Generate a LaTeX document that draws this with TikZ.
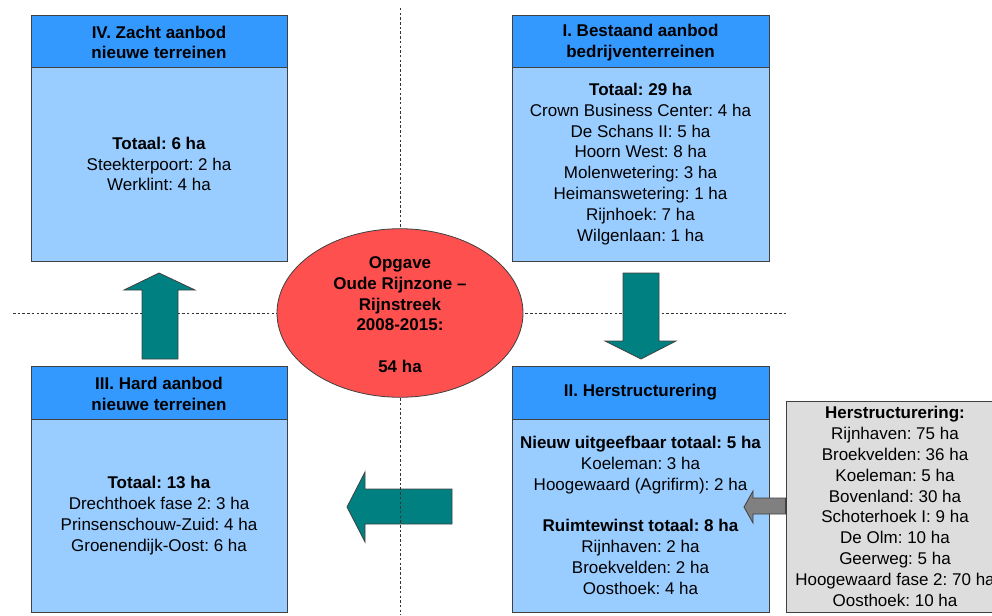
\documentclass[tikz,border=0pt]{standalone}
\usepackage{fontspec}
\setmainfont{Liberation Sans}
\usetikzlibrary{shapes.geometric}
\frenchspacing
\definecolor{headblue}{HTML}{3399FF}
\definecolor{bodyblue}{HTML}{99CCFF}
\definecolor{goalred}{HTML}{FF5050}
\definecolor{flowteal}{HTML}{008080}
\definecolor{sidegray}{HTML}{DDDDDD}
\definecolor{arrowgray}{HTML}{808080}
\begin{document}
\begin{tikzpicture}[x=1pt,y=-1pt,
  every node/.style={font=\fontsize{17}{20.8}\selectfont, inner sep=0pt, align=center},
  frame/.style={draw=black!75, line width=0.8pt},
  headbox/.style={frame, fill=headblue, minimum width=256pt, font=\fontsize{17}{20.8}\selectfont\bfseries},
  bodybox/.style={frame, fill=bodyblue, minimum width=256pt},
  sidebox/.style={frame, fill=sidegray},
  goal/.style={frame, ellipse, fill=goalred, minimum width=246pt, minimum height=158pt, font=\fontsize{17}{20.8}\selectfont\bfseries},
  blockarrow/.style={frame, fill=flowteal},
  grayarrow/.style={frame, fill=arrowgray},
  quadrant/.style={draw=black!80, line width=0.9pt, dash pattern=on 2.5pt off 2.2pt}
]
\useasboundingbox (0,0) rectangle (992,615);
\clip (0,0) rectangle (992,615);

% quadrant divider (horizontal) and flow arrows
\coordinate (hl) at (13,313);
\coordinate (hr) at (787,313);
\draw[quadrant] (hl) -- (hr);

\draw[blockarrow] (142,359) -- (142,290) -- (124,290) -- (159,273) -- (195,290) -- (178,290) -- (178,359) -- cycle;
\draw[blockarrow] (623,273) -- (659,273) -- (659,341) -- (676,341) -- (641,359) -- (605,341) -- (623,341) -- cycle;
\draw[blockarrow] (452,489) -- (365,489) -- (365,472) -- (347,507) -- (365,542) -- (365,524) -- (452,524) -- cycle;

% quadrant divider (vertical)
\coordinate (vt) at (400,8);
\coordinate (vb) at (400,615);
\draw[quadrant] (vt) -- (vb);

% central target
\node[goal] (goal) at (400,313) {\rule{0pt}{15pt}Opgave\\Oude Rijnzone --\\Rijnstreek\\2008-2015:\\[20.8pt]54 ha};

% IV. soft supply
\node[headbox, minimum height=52pt] (h4) at (159,41) {\rule{0pt}{15pt}IV. Zacht aanbod\\nieuwe terreinen};
\node[bodybox, minimum height=194pt] (b4) at (159,164) {\textbf{Totaal: 6 ha}\\Steekterpoort: 2 ha\\Werklint: 4 ha};

% I. existing supply
\node[headbox, minimum width=257pt, minimum height=52pt] (h1) at (640.5,41) {\rule{0pt}{15pt}I. Bestaand aanbod\\bedrijventerreinen};
\node[bodybox, minimum width=257pt, minimum height=194pt] (b1) at (640.5,164) {\textbf{Totaal: 29 ha}\\Crown Business Center: 4 ha\\De Schans II: 5 ha\\Hoorn West: 8 ha\\Molenwetering: 3 ha\\Heimanswetering: 1 ha\\Rijnhoek: 7 ha\\Wilgenlaan: 1 ha};

% III. hard supply
\node[headbox, minimum height=53pt] (h3) at (159,392.5) {\rule{0pt}{15pt}III. Hard aanbod\\nieuwe terreinen};
\node[bodybox, minimum height=193pt] (b3) at (159,515.5) {\textbf{Totaal: 13 ha}\\Drechthoek fase 2: 3 ha\\Prinsenschouw-Zuid: 4 ha\\Groenendijk-Oost: 6 ha};

% II. restructuring
\node[headbox, minimum width=257pt, minimum height=53pt] (h2) at (640.5,392.5) {II. Herstructurering};
\node[bodybox, minimum width=257pt, minimum height=193pt] (b2) at (640.5,515.5) {\textbf{Nieuw uitgeefbaar totaal: 5 ha}\\Koeleman: 3 ha\\Hoogewaard (Agrifirm): 2 ha\\[20.8pt]\textbf{Ruimtewinst totaal: 8 ha}\\Rijnhaven: 2 ha\\Broekvelden: 2 ha\\Oosthoek: 4 ha};

% restructuring projects
\node[sidebox, minimum width=218pt, minimum height=211pt] (side) at (895,506.5) {\textbf{Herstructurering:}\\Rijnhaven: 75 ha\\Broekvelden: 36 ha\\Koeleman: 5 ha\\Bovenland: 30 ha\\Schoterhoek I: 9 ha\\De Olm: 10 ha\\Geerweg: 5 ha\\Hoogewaard fase 2: 70 ha\\Oosthoek: 10 ha};

\draw[grayarrow] (side.west |- 0,498) -- (753,498) -- (753,491) -- (744,507) -- (753,523) -- (753,514) -- (side.west |- 0,514) -- cycle;
\end{tikzpicture}
\end{document}
